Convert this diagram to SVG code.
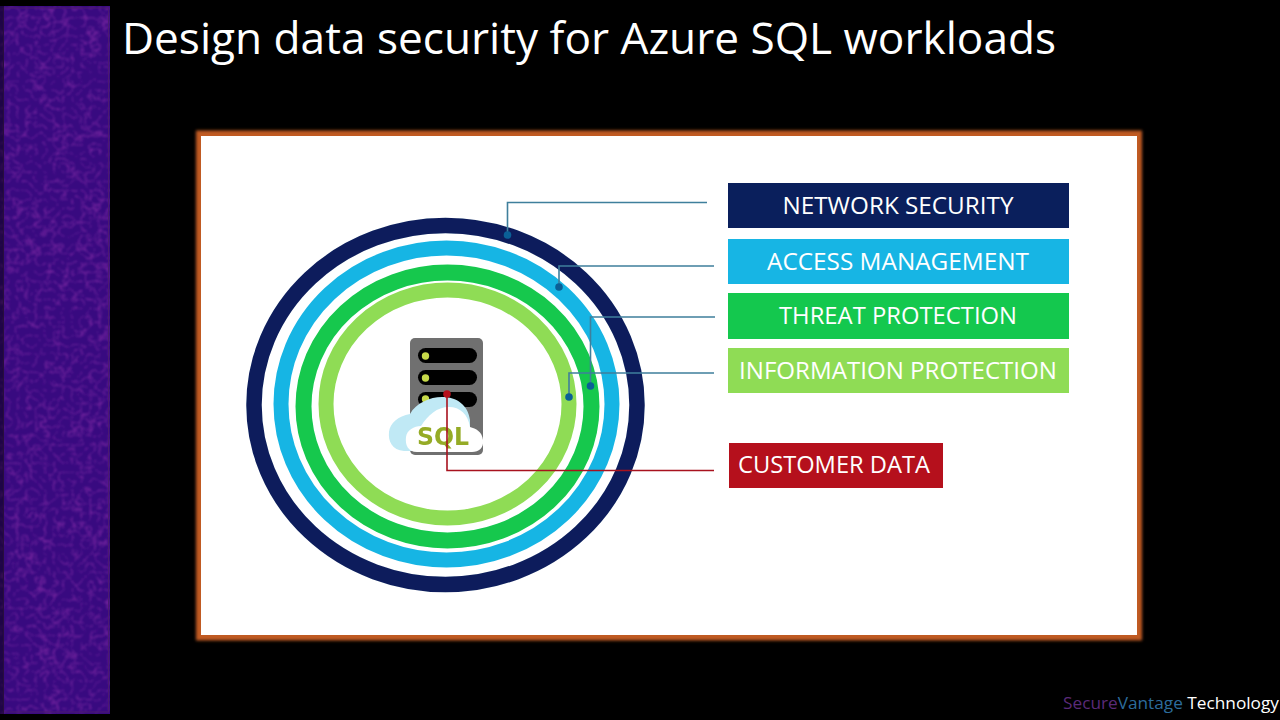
<svg xmlns="http://www.w3.org/2000/svg" width="1280" height="720" viewBox="0 0 1280 720">
<style>
.t{font-family:"Open Sans","Noto Sans",sans-serif}
.lbl{font-family:"Open Sans","Noto Sans",sans-serif;font-size:23.500px;fill:#fff;text-anchor:middle}
.ring{fill:none}
.ln{fill:none;stroke:#3f7f9c;stroke-width:1.600}
.dot{fill:#0a5f96}
</style>
<defs>
<filter id="tex" x="0" y="0" width="100%" height="100%">
<feTurbulence type="turbulence" baseFrequency="0.11" numOctaves="4" seed="11"/>
<feColorMatrix type="matrix" values="0 0 0 0 0.46  0 0 0 0 0.05  0 0 0 0 0.52  -2.400 0 0 0 0.620"/>
<feGaussianBlur stdDeviation="0.800"/>
</filter>
<filter id="glow" x="-5%" y="-5%" width="110%" height="110%"><feGaussianBlur stdDeviation="1.800"/></filter>
<filter id="soft" x="-5%" y="-5%" width="110%" height="110%"><feGaussianBlur stdDeviation="0.500"/></filter>
</defs>
<rect width="1280" height="720" fill="#000"/>
<g id="side-panel">
<rect x="0" y="6" width="110" height="708" fill="#380a80"/>
<rect x="0" y="6" width="110" height="708" filter="url(#tex)"/>
<rect x="3.500" y="8" width="105" height="704" fill="none" stroke="#4a1a70" stroke-width="1"/>
<rect x="0" y="6" width="4" height="708" fill="#000" opacity="0.450"/>
</g>
<text class="t" x="122" y="54" font-size="43.500" fill="#fff" textLength="934" lengthAdjust="spacingAndGlyphs">Design data security for Azure SQL workloads</text>
<g id="frame">
<rect x="196" y="130.500" width="946" height="510" fill="#c05a20" filter="url(#glow)"/>
<rect x="201" y="136" width="936" height="499" fill="#fff"/>
</g>
<g id="rings" filter="url(#soft)">
<ellipse class="ring" cx="445.500" cy="405" rx="191.500" ry="179.500" stroke="#0a1f5c" stroke-width="15.500"/>
<ellipse class="ring" cx="446.500" cy="404" rx="165.500" ry="156" stroke="#17b5e4" stroke-width="15"/>
<ellipse class="ring" cx="447.500" cy="406.500" rx="144" ry="134" stroke="#14c84e" stroke-width="16"/>
<ellipse class="ring" cx="447.500" cy="404" rx="121.500" ry="114" stroke="#8fdc55" stroke-width="15"/>
</g>
<g id="sql-server" filter="url(#soft)">
<rect x="410" y="338" width="73" height="117" rx="5" fill="#6f6f6f"/>
<rect x="418" y="348" width="59" height="15" rx="7.500" fill="#000"/>
<rect x="418" y="370" width="59" height="15" rx="7.500" fill="#000"/>
<rect x="418" y="392" width="59" height="15" rx="7.500" fill="#000"/>
<circle cx="425.500" cy="356" r="3.700" fill="#c6d94a"/>
<circle cx="425.500" cy="378" r="3.700" fill="#c6d94a"/>
<circle cx="425.500" cy="399" r="3.700" fill="#c6d94a"/>
<path d="M404 451C392 450 388 441 389 432C390 423 398 416 410 414C416 403 430 397 442 397C457 397 468 405 470 420L470 451Z" fill="#c0e9f5"/>
<path d="M417 452C408 452 405 445 406 437C407 430 414 426 421 426C428 415 437 407 449 407C460 407 468 414 470 427C476 429 482 431 483 440C484 448 479 452 472 452Z" fill="#fff"/>
<text x="443" y="444.500" font-family="'DejaVu Sans',sans-serif" font-weight="700" font-size="25" fill="#95ab25" text-anchor="middle" textLength="52" lengthAdjust="spacingAndGlyphs">SQL</text>
</g>
<g id="connectors">
<path class="ln" d="M707 202.500H507.500V234"/>
<path class="ln" d="M714 266H559V287"/>
<path class="ln" d="M715 317H590.500V386"/>
<path class="ln" d="M714 373H569V397"/>
<path d="M714 470.500H447V394" fill="none" stroke="#a8121e" stroke-width="1.600"/>
<circle class="dot" cx="507.500" cy="235" r="3.800"/>
<circle class="dot" cx="559" cy="287" r="3.800"/>
<circle class="dot" cx="590.500" cy="386" r="3.800"/>
<circle class="dot" cx="569" cy="397" r="3.800"/>
<circle cx="447" cy="394" r="3.800" fill="#b5101c"/>
</g>
<g id="network-security"><rect x="728" y="183" width="341" height="45" fill="#0a1f5c"/><text class="lbl" x="898" y="214" textLength="231" lengthAdjust="spacingAndGlyphs">NETWORK SECURITY</text></g>
<g id="access-management"><rect x="728" y="239" width="341" height="45" fill="#17b5e4"/><text class="lbl" x="898" y="270" textLength="262" lengthAdjust="spacingAndGlyphs">ACCESS MANAGEMENT</text></g>
<g id="threat-protection"><rect x="728" y="293" width="341" height="46" fill="#14c84e"/><text class="lbl" x="898" y="324" textLength="238" lengthAdjust="spacingAndGlyphs">THREAT PROTECTION</text></g>
<g id="information-protection"><rect x="728" y="348" width="341" height="45" fill="#8fdc55"/><text class="lbl" x="898" y="379" textLength="318" lengthAdjust="spacingAndGlyphs">INFORMATION PROTECTION</text></g>
<g id="customer-data"><rect x="729" y="443" width="214" height="45" fill="#b5101c"/><text class="lbl" x="834" y="473" textLength="192" lengthAdjust="spacingAndGlyphs">CUSTOMER DATA</text></g>
<text x="1063" y="709" font-family="'Open Sans','Noto Sans',sans-serif" font-size="17" textLength="216" lengthAdjust="spacingAndGlyphs"><tspan fill="#5a2a78">Secure</tspan><tspan fill="#2c6c9c">Vantage</tspan><tspan fill="#fff"> Technology</tspan></text>
</svg>
